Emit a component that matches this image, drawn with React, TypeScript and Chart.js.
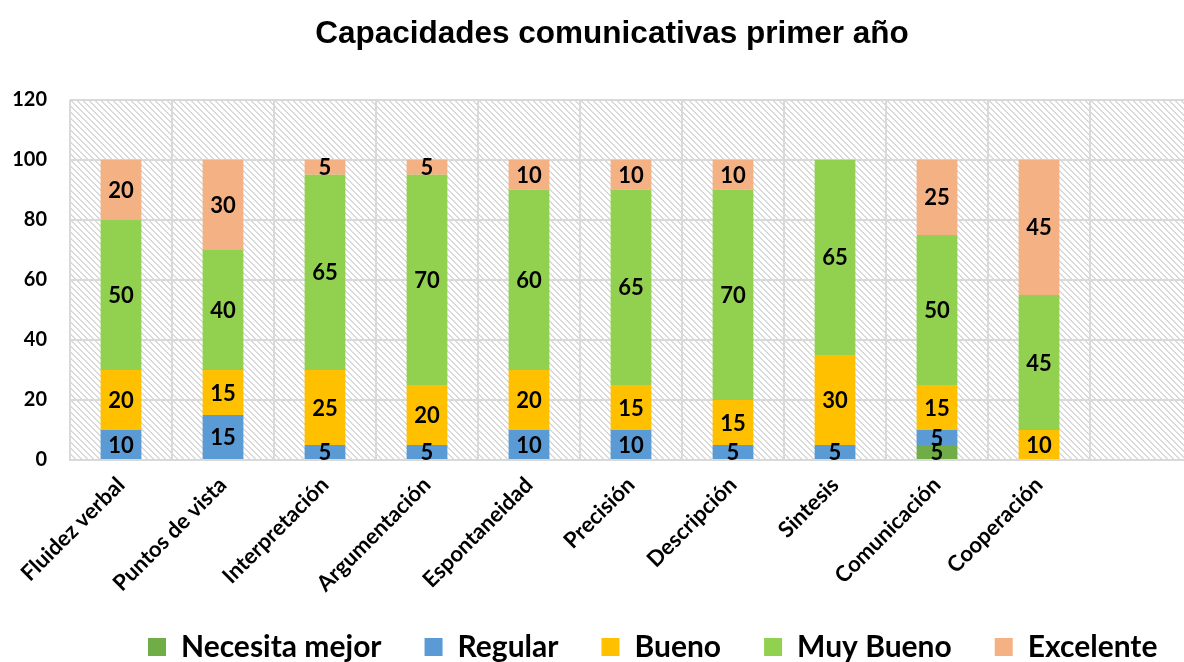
import React, { useEffect, useRef } from "react";
import { Chart, registerables } from "chart.js";

Chart.register(...registerables);

const categories = [
  "Fluidez verbal",
  "Puntos de vista",
  "Interpretación",
  "Argumentación",
  "Espontaneidad",
  "Precisión",
  "Descripción",
  "Sintesis",
  "Comunicación",
  "Cooperación",
  "",
];

const necesitaMejor = [0, 0, 0, 0, 0, 0, 0, 0, 5, 0];
const regular = [10, 15, 5, 5, 10, 10, 5, 5, 5, 0];
const bueno = [20, 15, 25, 20, 20, 15, 15, 30, 15, 10];
const muyBueno = [50, 40, 65, 70, 60, 65, 70, 65, 50, 45];
const excelente = [20, 30, 5, 5, 10, 10, 10, 0, 25, 45];

const seriesNames = ["Necesita mejor", "Regular", "Bueno", "Muy Bueno", "Excelente"];
const seriesColors = ["#70AD47", "#5B9BD5", "#FFC000", "#92D050", "#F4B183"];
const yTicks = [0, 20, 40, 60, 80, 100, 120];

const TITLE = "Capacidades comunicativas primer año";
const CANVAS_W = 1230;
const CANVAS_H = 662;

function makePattern(): CanvasPattern | string {
  const t = document.createElement("canvas");
  const n = 6;
  t.width = n;
  t.height = n;
  const c = t.getContext("2d");
  if (!c) return "#ffffff";
  c.fillStyle = "#ffffff";
  c.fillRect(0, 0, n, n);
  c.fillStyle = "#dadada";
  for (let y = 0; y < n; y++) {
    for (let x = 0; x < n; x++) {
      const d = (((x - y) % n) + n) % n;
      if (d === 0 || d === 1) c.fillRect(x, y, 1, 1);
    }
  }
  const p = c.createPattern(t, "repeat");
  return p || "#ffffff";
}

export default function App() {
  const ref = useRef<HTMLCanvasElement | null>(null);

  useEffect(() => {
    document.body.style.margin = "0";
    const canvas = ref.current;
    if (!canvas) return;
    const pattern = makePattern();

    const bgPlugin = {
      id: "hatchBg",
      beforeDraw(chart: any) {
        const { ctx, chartArea } = chart;
        if (!chartArea) return;
        ctx.save();
        ctx.fillStyle = pattern;
        ctx.fillRect(chartArea.left, chartArea.top, chartArea.right - chartArea.left, chartArea.bottom - chartArea.top);
        ctx.restore();
      },
    };

    const labelPlugin = {
      id: "segLabels",
      afterDatasetsDraw(chart: any) {
        const ctx = chart.ctx;
        ctx.save();
        ctx.font = "bold 22px Lato";
        ctx.fillStyle = "#000000";
        ctx.textAlign = "center";
        ctx.textBaseline = "middle";
        chart.data.datasets.forEach((ds: any, i: number) => {
          const meta = chart.getDatasetMeta(i);
          meta.data.forEach((bar: any, j: number) => {
            const v = ds.data[j];
            if (!v) return;
            const { x, y, base } = bar.getProps(["x", "y", "base"], true);
            ctx.fillText(String(v), x, (y + base) / 2 + 1);
          });
        });
        ctx.restore();
      },
    };

    const boxShift = {
      id: "boxShift",
      afterLayout(chart: any) {
        const lg = chart.legend;
        if (lg && lg.lineWidths) {
          const pad = lg.options.labels.padding;
          const start = (lg.left + pad + lg.right - lg.lineWidths[0]) / 2;
          const dx = 148 - start;
          lg.left += dx;
          lg.right += dx;
          const h = lg.bottom - lg.top;
          lg.top = 647 - pad - 15;
          lg.bottom = lg.top + h;
        }
        const tb = chart.titleBlock;
        if (tb) {
          const c = (tb.left + tb.right) / 2;
          const dx = 612 - c;
          tb.left += dx;
          tb.right += dx;
        }
        const xs = chart.scales.x;
        if (xs) {
          xs.bottom = CANVAS_H;
        }
      },
    };

    const chart = new Chart(canvas, {
      type: "bar",
      data: {
        labels: categories,
        datasets: [necesitaMejor, regular, bueno, muyBueno, excelente].map((d, i) => ({
          label: seriesNames[i],
          data: d,
          backgroundColor: seriesColors[i],
          borderWidth: 0,
          barPercentage: 0.4,
          categoryPercentage: 1,
        })),
      },
      options: {
        responsive: false,
        animation: false,
        devicePixelRatio: 1,
        layout: { padding: { left: 0, right: 38, top: 0, bottom: 0 } },
        plugins: {
          title: {
            display: true,
            text: TITLE,
            color: "#000000",
            font: { family: "'Liberation Sans', Arial, sans-serif", size: 31.5, weight: "bold", lineHeight: 1.2 },
            padding: { top: 15, bottom: 47 },
          },
          legend: {
            display: true,
            position: "bottom",
            labels: {
              color: "#000000",
              font: { family: "Lato", size: 30, weight: "bold" },
              boxWidth: 18,
              boxHeight: 18,
              padding: 43,
            },
          },
          tooltip: { enabled: false },
        },
        scales: {
          x: {
            stacked: true,
            grid: { display: true, color: "#d9d9d9", lineWidth: 2, drawTicks: false, offset: true },
            border: { display: true, color: "#d9d9d9", width: 2 },
            ticks: {
              autoSkip: false,
              maxRotation: 45,
              minRotation: 45,
              padding: 12,
              color: "#000000",
              font: { family: "Lato", size: 22, weight: "bold" },
            },
            afterFit(scale: any) {
              scale.height = 119;
            },
          },
          y: {
            stacked: true,
            min: 0,
            max: 120,
            grid: { color: "#d9d9d9", lineWidth: 2, drawTicks: false },
            border: { display: false },
            afterBuildTicks(scale: any) {
              scale.ticks = yTicks.map((v) => ({ value: v }));
            },
            ticks: {
              padding: 23,
              color: "#000000",
              font: { family: "Lato", size: 20, weight: "bold" },
            },
            afterFit(scale: any) {
              scale.width = 70;
            },
          },
        },
      },
      plugins: [bgPlugin, labelPlugin, boxShift],
    } as any);

    return () => chart.destroy();
  }, []);

  return (
    <div style={{ position: "fixed", left: 0, top: 0, width: 1184, height: 662, overflow: "hidden", background: "#ffffff" }}>
      <canvas ref={ref} width={CANVAS_W} height={CANVAS_H} style={{ width: CANVAS_W, height: CANVAS_H, display: "block" }} />
    </div>
  );
}
